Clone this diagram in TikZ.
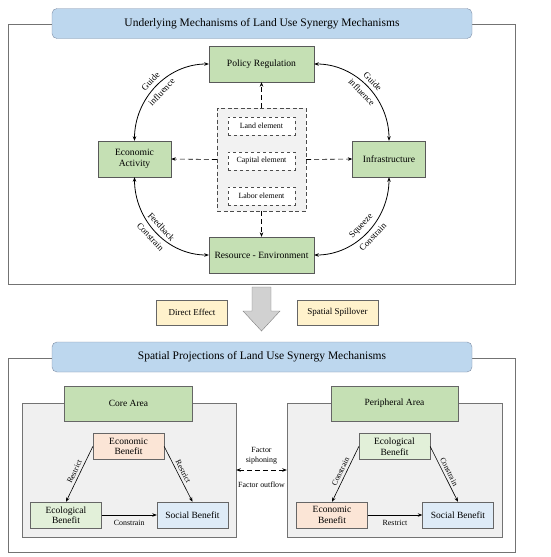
\documentclass[tikz,border=0pt]{standalone}
\usepackage{fontspec}
\setmainfont{Liberation Serif}
\usetikzlibrary{arrows.meta}
\definecolor{barblue}{HTML}{BDD7EE}
\definecolor{barline}{HTML}{7F8FA6}
\definecolor{mechgreen}{HTML}{C5E0B4}
\definecolor{palegreen}{HTML}{E2F0D9}
\definecolor{paleorange}{HTML}{FBE5D6}
\definecolor{paleblue}{HTML}{DEEBF7}
\definecolor{paleyellow}{HTML}{FFF2CC}

\begin{document}
\begin{tikzpicture}[x=1pt,y=-1pt,>={Stealth[length=4.5pt,width=3.5pt]},
  titlebar/.style={draw=barline,fill=barblue,rounded corners=5pt,minimum width=420pt,minimum height=30pt,font=\fontsize{11.5}{13}\selectfont},
  mech/.style={draw=black!65,fill=mechgreen,minimum width=105pt,minimum height=36pt,align=center,font=\fontsize{9.6}{11.5}\selectfont},
  factor/.style={draw=black!70,dashed,fill=white,minimum width=67pt,minimum height=18pt,font=\fontsize{7.9}{9}\selectfont},
  effect/.style={draw=black!60,fill=paleyellow,minimum width=71pt,minimum height=25pt,font=\fontsize{9}{10}\selectfont},
  panel/.style={draw=black!55,fill=black!6,minimum width=214pt,minimum height=134pt},
  area/.style={draw=black!60,fill=mechgreen,minimum width=128pt,minimum height=35pt,font=\fontsize{9.5}{11}\selectfont},
  benefit/.style={draw=black!60,minimum width=71pt,minimum height=26pt,align=center,font=\fontsize{9.5}{10.5}\selectfont},
  lab/.style={font=\fontsize{9}{10}\selectfont,inner sep=4pt},
  small/.style={font=\fontsize{7.9}{9.5}\selectfont,inner sep=2.5pt,align=center},
  dashline/.style={semithick,dash pattern=on 5pt off 3pt}]
\useasboundingbox (0,0) rectangle (550,557);

% upper part
\draw[black!55] (8,24) rectangle (515,284);
\node[titlebar] (toptitle) at (262,23.5) {Underlying Mechanisms of Land Use Synergy Mechanisms};
\node[mech] (policy) at (261.5,64) {Policy Regulation};
\node[mech,minimum width=73pt] (econ) at (134.5,159) {Economic\\Activity};
\node[mech,minimum width=73pt] (infra) at (389,159) {Infrastructure};
\node[mech] (resource) at (261.5,255) {Resource - Environment};
\node[draw=black!70,dash pattern=on 4pt off 2.5pt,fill=black!5,minimum width=89pt,minimum height=103pt] (factors) at (261.5,159.5) {};
\node[factor] (land) at (261.5,126) {Land element};
\node[factor] (capital) at (261.5,161) {Capital element};
\node[factor] (labor) at (261.5,196) {Labor element};
\draw[->,dashline] (factors.north) -- (policy.south);
\draw[->,dashline] (factors.south) -- (resource.north);
\draw[->,dashline] (factors.west) -- (econ.east);
\draw[->,dashline] (factors.east) -- (infra.west);
\draw[<->,thick] (econ.north) to[out=90,in=180] node[lab,sloped,above]{Guide} node[lab,sloped,below]{influence} (policy.west);
\draw[<->,thick] (policy.east) to[out=0,in=90] node[lab,sloped,above]{Guide} node[lab,sloped,below]{influence} (infra.north);
\draw[<->,thick] (econ.south) to[out=270,in=180] node[lab,sloped,above]{Feedback} node[lab,sloped,below]{Constrain} (resource.west);
\draw[<->,thick] (resource.east) to[out=0,in=270] node[lab,sloped,above]{Squeeze} node[lab,sloped,below]{Constrain} (infra.south);

% transition
\node[effect] (direct) at (192,312.5) {Direct Effect};
\node[effect,minimum width=81pt] (spill) at (337.5,312.5) {Spatial Spillover};
\draw[black!50,fill=black!18] (252,287) -- (271,287) -- (271,311) -- (280,311) -- (261.5,331) -- (243,311) -- (252,311) -- cycle;

% lower part
\draw[black!55] (8,358) rectangle (515,552);
\node[titlebar] (bottitle) at (262,357) {Spatial Projections of Land Use Synergy Mechanisms};
\node[panel] (core) at (129,470) {};
\node[panel,minimum width=215pt] (periph) at (394.5,470) {};
\node[area] (corelab) at (128.5,403.5) {Core Area};
\node[area,minimum width=127pt] (periphlab) at (394.5,403.5) {Peripheral Area};

\node[benefit,fill=paleorange] (cecon) at (128.5,446.5) {Economic\\Benefit};
\node[benefit,fill=palegreen] (cecol) at (66,515) {Ecological\\Benefit};
\node[benefit,fill=paleblue] (csoc) at (192.5,515) {Social Benefit};
\draw[->,semithick] (cecon.west) -- node[small,sloped,above]{Restrict} (cecol.north);
\draw[->,semithick] (cecon.east) -- node[small,sloped,above]{Restrict} (csoc.north);
\draw[->,semithick] (cecol.east) -- node[small,below=2pt]{Constrain} (csoc.west);

\node[benefit,fill=palegreen] (pecol) at (394.5,446.5) {Ecological\\Benefit};
\node[benefit,fill=paleorange] (pecon) at (332,515) {Economic\\Benefit};
\node[benefit,fill=paleblue] (psoc) at (458,515) {Social Benefit};
\draw[->,semithick] (pecol.west) -- node[small,sloped,above]{Constrain} (pecon.north);
\draw[->,semithick] (pecol.east) -- node[small,sloped,above]{Constrain} (psoc.north);
\draw[->,semithick] (pecon.east) -- node[small,below=2pt]{Restrict} (psoc.west);

\draw[<->,dashline,thick] (core.east) -- node[small,above=3pt]{Factor\\siphoning} node[small,below=9pt]{Factor outflow} (periph.west);
\end{tikzpicture}
\end{document}
